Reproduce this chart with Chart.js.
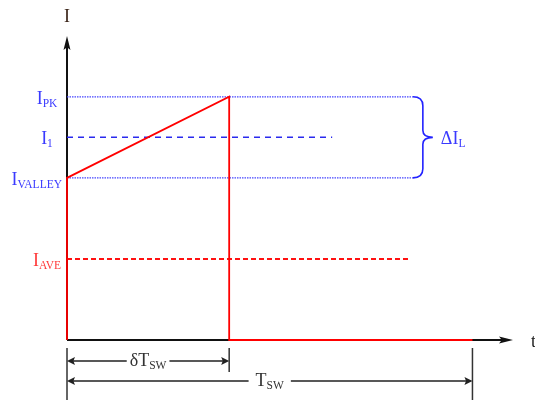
<!DOCTYPE html>
<html><head><meta charset="utf-8">
<style>html,body{margin:0;padding:0;background:#fff}canvas{display:block}</style>
<script src="https://cdn.jsdelivr.net/npm/chart.js@4/dist/chart.umd.min.js"></script>
</head><body>
<canvas id="c" width="535" height="400"></canvas>
<script>
// ---- data ----
const waveT = [0, 0, 0.4, 0.4, 1.0];          // time (fraction of T_SW)
const waveI = [0, 2.0, 3.0, 0, 0];            // inductor current
const levelNames = ['PK', '1', 'VALLEY', 'AVE'];
const levelValues = [3.0, 2.5, 2.0, 1.0];
const levelEnds = [0.853, 0.654, 0.853, 0.846];
const timeMarks = [0, 0.4, 1.0];
const tMax = 1.1;
const iMax = 3.75;

// ---- styles ----
const FONT = '"Liberation Serif", "Times New Roman", serif';
const levelStyles = [
  {color: '#4646ff', width: 1.2, dash: [1.5, 1]},
  {color: '#2a2aee', width: 1.5, dash: [6, 5]},
  {color: '#4646ff', width: 1.2, dash: [1.5, 1]},
  {color: '#ff1111', width: 2, dash: [5, 3]}
];
const labelColors = ['#3a3aff', '#3a3aff', '#3a3aff', '#ff3a3a'];

const datasets = [{
  data: waveT.map((t, k) => ({x: t, y: waveI[k]})),
  showLine: true, borderColor: '#ff0000', borderWidth: 1.8,
  pointRadius: 0, fill: false, tension: 0, clip: false, order: 0
}];
levelValues.forEach((v, k) => {
  datasets.push({
    data: [{x: 0, y: v}, {x: levelEnds[k], y: v}],
    showLine: true, borderColor: levelStyles[k].color, borderWidth: levelStyles[k].width,
    borderDash: levelStyles[k].dash, pointRadius: 0, fill: false, clip: false, order: 1 + k
  });
});

function subText(ctx, main, sub, x, yc, align, color, mainSize, subSize) {
  mainSize = mainSize || 18; subSize = subSize || 11.5;
  ctx.fillStyle = color;
  ctx.textAlign = 'left'; ctx.textBaseline = 'alphabetic';
  ctx.font = mainSize + 'px ' + FONT;
  const w1 = ctx.measureText(main).width;
  ctx.font = subSize + 'px ' + FONT;
  const w2 = sub ? ctx.measureText(sub).width : 0;
  const total = w1 + w2;
  let left = align === 'center' ? x - total / 2 : align === 'right' ? x - total : x;
  const base = yc + mainSize * 0.33;
  ctx.font = mainSize + 'px ' + FONT;
  ctx.fillText(main, left, base);
  if (sub) { ctx.font = subSize + 'px ' + FONT; ctx.fillText(sub, left + w1, base + 3); }
  return {left: left, right: left + total};
}

function arrowHead(ctx, tx, ty, dx, dy, len, half, color) {
  const px = -dy, py = dx;
  const bx = tx - dx * len, by = ty - dy * len;
  const nx = tx - dx * (len * 0.8), ny = ty - dy * (len * 0.8);
  ctx.beginPath();
  ctx.moveTo(tx, ty);
  ctx.lineTo(bx + px * half, by + py * half);
  ctx.lineTo(nx, ny);
  ctx.lineTo(bx - px * half, by - py * half);
  ctx.closePath();
  ctx.fillStyle = color; ctx.fill();
}

function dimLine(ctx, x0, x1, y, main, sub, pad) {
  ctx.save();
  ctx.font = '18px ' + FONT;
  const w1 = ctx.measureText(main).width;
  ctx.font = '11.5px ' + FONT;
  const w2 = ctx.measureText(sub).width;
  const cx = (x0 + x1) / 2, tw = w1 + w2;
  ctx.strokeStyle = '#222'; ctx.lineWidth = 1.5;
  ctx.beginPath();
  ctx.moveTo(x0 + 2, y); ctx.lineTo(cx - tw / 2 - pad, y);
  ctx.moveTo(cx + tw / 2 + pad, y); ctx.lineTo(x1 - 2, y);
  ctx.stroke();
  arrowHead(ctx, x0, y, -1, 0, 8, 4, '#222');
  arrowHead(ctx, x1, y, 1, 0, 8, 4, '#222');
  subText(ctx, main, sub, cx, y - 1, 'center', '#333');
  ctx.restore();
}

const diagramPlugin = {
  id: 'diagram',
  beforeDatasetsDraw(chart) {
    const ctx = chart.ctx, xs = chart.scales.x, ys = chart.scales.y, a = chart.chartArea;
    const x0 = xs.getPixelForValue(0), y0 = ys.getPixelForValue(0);
    ctx.save();
    ctx.strokeStyle = '#111'; ctx.lineWidth = 2;
    ctx.beginPath();
    ctx.moveTo(x0, y0); ctx.lineTo(a.right - 6, y0);
    ctx.moveTo(x0, y0); ctx.lineTo(x0, a.top + 6);
    ctx.stroke();
    arrowHead(ctx, a.right, y0, 1, 0, 14, 3.5, '#111');
    arrowHead(ctx, x0, a.top, 0, -1, 14, 3.5, '#111');
    ctx.restore();
  },
  afterDatasetsDraw(chart) {
    const ctx = chart.ctx, xs = chart.scales.x, ys = chart.scales.y, a = chart.chartArea;
    const x0 = xs.getPixelForValue(0), y0 = ys.getPixelForValue(0);
    ctx.save();
    // axis titles
    subText(ctx, 'I', '', x0, 16, 'center', '#3a2418');
    subText(ctx, 't', '', a.right + 18, 341, 'left', '#222');
    // level labels
    levelValues.forEach((v, k) => {
      const y = ys.getPixelForValue(v) + 1;
      if (levelNames[k] === 'VALLEY') subText(ctx, 'I', levelNames[k], x0 - 5, y, 'right', labelColors[k]);
      else subText(ctx, 'I', levelNames[k], x0 - 20, y, 'center', labelColors[k]);
    });
    // brace for delta I_L
    const bx = xs.getPixelForValue(levelEnds[0]);
    const yT = ys.getPixelForValue(levelValues[0]);
    const yB = ys.getPixelForValue(levelValues[2]);
    const yM = (yT + yB) / 2;
    ctx.strokeStyle = '#2222ff'; ctx.lineWidth = 1.6;
    ctx.beginPath();
    ctx.moveTo(bx, yT);
    ctx.quadraticCurveTo(bx + 10, yT, bx + 10, yT + 9);
    ctx.lineTo(bx + 10, yM - 7);
    ctx.quadraticCurveTo(bx + 10, yM, bx + 20, yM);
    ctx.quadraticCurveTo(bx + 10, yM, bx + 10, yM + 7);
    ctx.lineTo(bx + 10, yB - 9);
    ctx.quadraticCurveTo(bx + 10, yB, bx, yB);
    ctx.stroke();
    subText(ctx, '\u0394I', 'L', bx + 28, yM + 1, 'left', '#3a3aff');
    // dimension ticks
    const xd = xs.getPixelForValue(timeMarks[1]);
    const xT = xs.getPixelForValue(timeMarks[2]);
    ctx.strokeStyle = '#333'; ctx.lineWidth = 1.5;
    ctx.beginPath();
    ctx.moveTo(x0, y0 + 8); ctx.lineTo(x0, chart.height);
    ctx.moveTo(xd, y0 + 8); ctx.lineTo(xd, y0 + 32);
    ctx.moveTo(xT, y0 + 8); ctx.lineTo(xT, chart.height);
    ctx.stroke();
    dimLine(ctx, x0, xd, y0 + 21, '\u03B4T', 'SW', 3);
    dimLine(ctx, x0, xT, y0 + 41, 'T', 'SW', 7);
    ctx.restore();
  }
};

new Chart(document.getElementById('c').getContext('2d'), {
  type: 'scatter',
  data: {datasets: datasets},
  options: {
    responsive: false, devicePixelRatio: 1, animation: false, events: [],
    layout: {padding: {left: 67, right: 22, top: 36, bottom: 60}},
    scales: {
      x: {type: 'linear', min: 0, max: tMax, display: false},
      y: {type: 'linear', min: 0, max: iMax, display: false}
    },
    plugins: {legend: {display: false}, tooltip: {enabled: false}}
  },
  plugins: [diagramPlugin]
});
</script>
</body></html>
